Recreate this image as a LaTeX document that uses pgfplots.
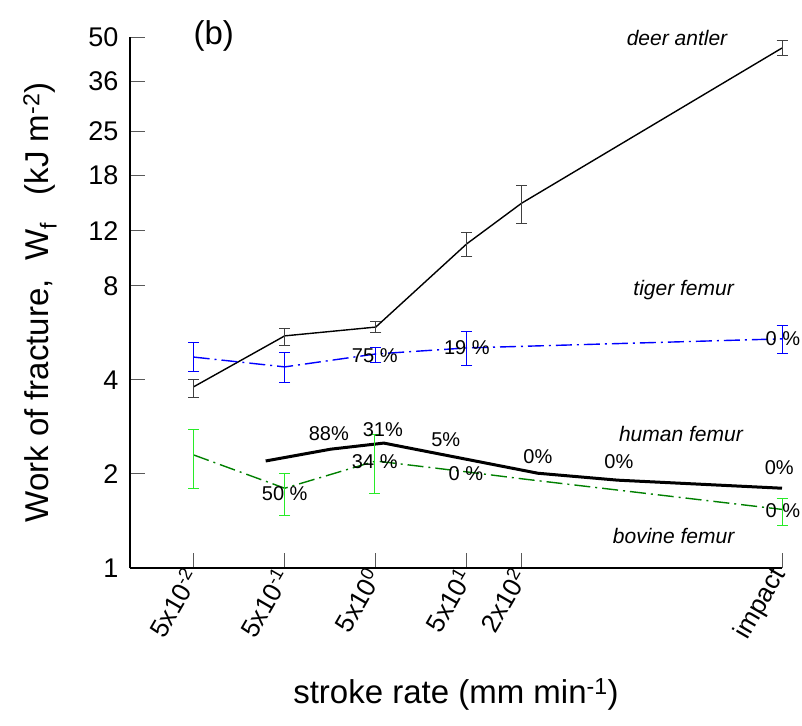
\documentclass[border=0pt]{standalone}
\usepackage{fontspec}
\setmainfont{Liberation Sans}
\usepackage{pgfplots}
\pgfplotsset{compat=1.18}
\definecolor{tigerblue}{RGB}{0,0,255}
\definecolor{bovgreen}{RGB}{0,128,0}
\definecolor{errgreen}{RGB}{40,235,40}
\begin{document}
\begin{tikzpicture}
\useasboundingbox (-130pt,-157pt) rectangle (672pt,568pt);
\begin{axis}[
  scale only axis, width=652pt, height=531pt,
  at={(0,0)}, anchor=south west,
  ymode=log, ymin=1, ymax=50, xmin=-2, xmax=5.16,
  clip=false,
  axis x line*=bottom, axis y line*=left,
  axis line style={line width=1.1pt,-},
  tick align=inside, major tick length=15pt,
  tick style={black!65,line width=0.9pt},
  minor tick num=0, minor tick style={draw=none},
  ytick={1,2,4,8,12,18,25,36,50},
  yticklabels={1,2,4,8,12,18,25,36,50},
  xtick={-1.301,-0.301,0.699,1.699,2.301,5.16},
  xticklabels={5x10\textsuperscript{-2},5x10\textsuperscript{-1},5x10\textsuperscript{0},5x10\textsuperscript{1},2x10\textsuperscript{2},impact},
  /pgf/number format/assume math mode=true,
  yticklabel style={font=\fontsize{27}{31}\selectfont, xshift=-8pt},
  xticklabel style={font=\fontsize{26}{30}\selectfont, rotate=60, anchor=east},
  every axis y label/.style={at={(axis description cs:-0.138,0.5)}, rotate=90, anchor=center, font=\fontsize{33}{38}\selectfont},
  every axis x label/.style={at={(axis description cs:0.5,-0.239)}, anchor=center, font=\fontsize{33}{38}\selectfont},
  ylabel={Work of fracture,~~W\textsubscript{f}~~~(kJ m\textsuperscript{-2})},
  xlabel={stroke rate (mm min\textsuperscript{-1})},
  error bars/y dir=both, error bars/y explicit,
]
% deer antler
\addplot[black, line width=1.4pt, mark=none,
  error bars/error bar style={black!75, line width=1pt, solid},
  error bars/error mark options={rotate=90, mark size=5.5pt, black!75, line width=1pt, solid}]
coordinates {
(-1.301,3.80) += (0,0.22) -= (0,0.28)
(-0.301,5.53) += (0,0.33) -= (0,0.36)
(0.699,5.90) += (0,0.27) -= (0,0.25)
(1.699,10.9) += (0,0.9) -= (0,1.0)
(2.301,14.7) += (0,2.0) -= (0,2.0)
(5.16,46.1) += (0,2.8) -= (0,2.5)
};
% tiger femur
\addplot[tigerblue, line width=1.4pt, mark=none, dash pattern={on 16pt off 5pt on 2pt off 5pt},
  error bars/error bar style={tigerblue, line width=1pt, solid},
  error bars/error mark options={rotate=90, mark size=5.5pt, tigerblue, line width=1pt, solid}]
coordinates {
(-1.301,4.73) += (0,0.52) -= (0,0.49)
(-0.301,4.40) += (0,0.51) -= (0,0.49)
(0.699,4.84) += (0,0.22) -= (0,0.28)
(1.699,5.06) += (0,0.63) -= (0,0.63)
(5.16,5.41) += (0,0.54) -= (0,0.54)
};
% human femur
\addplot[black, line width=3pt, mark=none, error bars/y dir=none]
coordinates {(-0.510,2.20) (0.204,2.40) (0.787,2.51) (2.479,2.01) (3.358,1.91) (5.16,1.80)};
% bovine femur line
\addplot[bovgreen, line width=1.4pt, mark=none, dash pattern={on 16pt off 5pt on 2pt off 5pt}, error bars/y dir=none]
coordinates {(-1.301,2.30) (-0.301,1.80) (0.699,2.20) (1.699,2.03) (2.301,1.93) (5.16,1.54)};
% bovine error bars
\addplot[draw=none, mark=none, forget plot,
  error bars/error bar style={draw=errgreen, line width=1pt, solid},
  error bars/error mark options={rotate=90, mark size=5.5pt, draw=errgreen, line width=1pt, solid}]
coordinates {
(-1.301,2.30) += (0,0.48) -= (0,0.50)
(-0.301,1.80) += (0,0.21) -= (0,0.33)
(0.680,2.20) += (0,0.48) -= (0,0.47)
(5.16,1.54) += (0,0.13) -= (0,0.17)
};
% labels
\node[font=\fontsize{33}{38}\selectfont] at (axis cs:-1.08,50.4) {(b)};
\begin{scope}[every node/.style={font=\itshape\fontsize{21}{24}\selectfont}]
\node at (axis cs:4.007,49.7) {deer antler};
\node at (axis cs:4.08,7.76) {tiger femur};
\node at (axis cs:4.05,2.685) {human femur};
\node at (axis cs:3.97,1.266) {bovine femur};
\end{scope}
\begin{scope}[every node/.style={font=\fontsize{20}{24}\selectfont, inner sep=0pt}]
\node at (axis cs:0.183,2.685) {88\%};
\node at (axis cs:0.776,2.765) {31\%};
\node at (axis cs:1.468,2.568) {5\%};
\node at (axis cs:2.479,2.266) {0\%};
\node at (axis cs:3.369,2.184) {0\%};
\node at (axis cs:5.13,2.089) {0\%};
\node at (axis cs:-0.301,1.725) {50 \%};
\node at (axis cs:0.688,2.184) {34 \%};
\node at (axis cs:1.688,2.0) {0 \%};
\node at (axis cs:5.17,1.522) {0 \%};
\node at (axis cs:0.688,4.77) {75 \%};
\node at (axis cs:1.699,5.06) {19 \%};
\node at (axis cs:5.17,5.40) {0 \%};
\end{scope}
\end{axis}
\end{tikzpicture}
\end{document}
